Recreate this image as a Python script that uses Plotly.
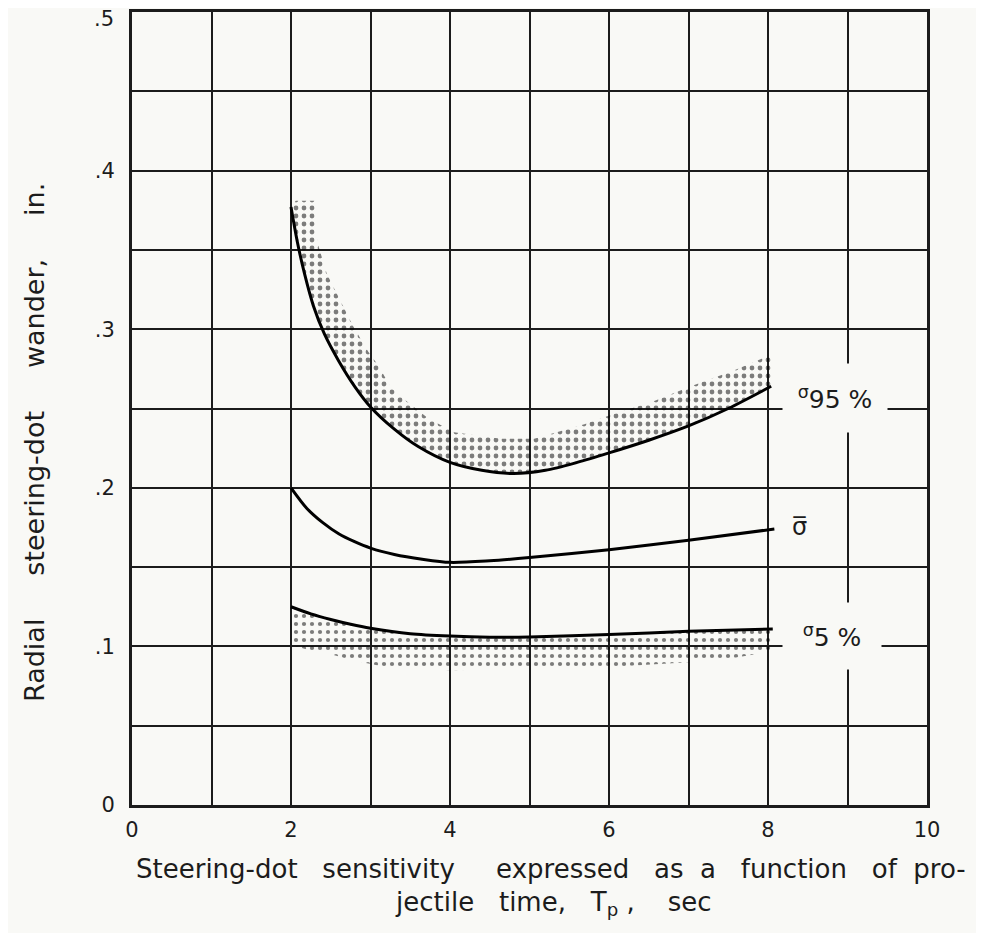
import plotly.graph_objects as go

# ---- data ----
# sigma 95% curve (lower edge of upper shaded band)
s95_x = [2.0, 2.08, 2.17, 2.28, 2.42, 2.6, 2.8, 3.0, 3.3, 3.6, 4.0, 4.4, 4.8, 5.2, 5.6, 6.0, 6.5, 7.0, 7.5, 8.04]
s95_y = [0.377, 0.355, 0.335, 0.315, 0.297, 0.280, 0.264, 0.251, 0.237, 0.226, 0.216, 0.211, 0.209, 0.211, 0.216, 0.222, 0.230, 0.239, 0.250, 0.264]
# upper edge of shaded band around sigma 95%
s95_band_x = [2.06, 2.31, 2.33, 2.45, 2.6, 2.78, 2.97, 3.1, 3.26, 3.47, 3.72, 4.05, 4.64, 5.06, 5.69, 6.03, 6.53, 7.03, 7.57, 8.04]
s95_band_y = [0.381, 0.381, 0.355, 0.335, 0.320, 0.302, 0.286, 0.277, 0.263, 0.254, 0.244, 0.235, 0.231, 0.231, 0.240, 0.246, 0.254, 0.264, 0.274, 0.284]

# mean sigma curve
mean_x = [2.0, 2.2, 2.4, 2.6, 2.8, 3.0, 3.3, 3.65, 4.0, 4.5, 5.0, 6.0, 7.0, 8.08]
mean_y = [0.200, 0.187, 0.178, 0.171, 0.166, 0.162, 0.158, 0.155, 0.153, 0.154, 0.156, 0.161, 0.167, 0.174]

# sigma 5% curve (upper edge of lower shaded band)
s5_x = [2.0, 2.25, 2.5, 2.75, 3.0, 3.5, 4.0, 4.5, 5.0, 6.0, 7.0, 8.06]
s5_y = [0.125, 0.1205, 0.117, 0.114, 0.1115, 0.108, 0.1065, 0.1058, 0.106, 0.1075, 0.1095, 0.111]
# lower edge of shaded band below sigma 5%
s5_band_x = [2.0, 2.2, 2.5, 2.8, 3.1, 3.5, 4.0, 4.6, 5.1, 6.0, 7.0, 7.6, 8.06]
s5_band_y = [0.101, 0.098, 0.095, 0.091, 0.088, 0.086, 0.085, 0.0855, 0.0855, 0.087, 0.090, 0.093, 0.097]

x_ticks = [0, 2, 4, 6, 8, 10]
x_ticktext = ["0", "2", "4", "6", "8", "10"]
y_ticks = [0, 0.1, 0.2, 0.3, 0.4]
y_ticktext = ["0", ".1", ".2", ".3", ".4"]
y_top_label = ".5"

PAPER = "#f9f9f6"
INK = "#1c1c1c"
FONT = "DejaVu Sans"

fig = go.Figure()

# shaded band, sigma 95%
fig.add_trace(go.Scatter(
    x=s95_band_x + s95_x[::-1], y=s95_band_y + s95_y[::-1],
    mode="none", fill="toself", fillcolor="rgba(0,0,0,0)",
    fillpattern=dict(shape=".", fgcolor="black", bgcolor="rgba(0,0,0,0)",
                     size=8, solidity=0.28, fillmode="overlay"),
    hoverinfo="skip", showlegend=False))

# shaded band, sigma 5%
fig.add_trace(go.Scatter(
    x=s5_x + s5_band_x[::-1], y=s5_y + s5_band_y[::-1],
    mode="none", fill="toself", fillcolor="rgba(0,0,0,0)",
    fillpattern=dict(shape=".", fgcolor="black", bgcolor="rgba(0,0,0,0)",
                     size=8, solidity=0.22, fillmode="overlay"),
    hoverinfo="skip", showlegend=False))

for xs, ys in [(s95_x, s95_y), (mean_x, mean_y), (s5_x, s5_y)]:
    fig.add_trace(go.Scatter(x=xs, y=ys, mode="lines",
                             line=dict(color="black", width=3, shape="spline", smoothing=0.8),
                             hoverinfo="skip", showlegend=False))

# curve labels
fig.add_annotation(x=8.84, y=0.2565, xref="x", yref="y",
                   text="<sup>σ</sup>95 %", showarrow=False,
                   xanchor="center", yanchor="middle",
                   font=dict(family=FONT, size=25, color=INK),
                   bgcolor=PAPER, width=102, height=66)
fig.add_annotation(x=8.40, y=0.175, xref="x", yref="y",
                   text="σ\u0305", showarrow=False,
                   xanchor="center", yanchor="middle",
                   font=dict(family=FONT, size=24, color=INK))
fig.add_annotation(x=8.80, y=0.1063, xref="x", yref="y",
                   text="<sup>σ</sup>5 %", showarrow=False,
                   xanchor="center", yanchor="middle",
                   font=dict(family=FONT, size=25, color=INK),
                   bgcolor=PAPER, width=96, height=64)

# top y tick label (kept inside the page)
fig.add_annotation(x=-0.020, y=0.991, xref="paper", yref="paper",
                   text=y_top_label, showarrow=False,
                   xanchor="right", yanchor="middle",
                   font=dict(family=FONT, size=21, color=INK))

# axis titles
fig.add_annotation(x=0.527, y=-0.0807, xref="paper", yref="paper",
                   text="Steering-dot   sensitivity     expressed   as  a   function   of  pro-",
                   showarrow=False, xanchor="center", yanchor="middle",
                   font=dict(family=FONT, size=26, color=INK))
fig.add_annotation(x=0.530, y=-0.1248, xref="paper", yref="paper",
                   text="jectile   time,   T<sub>p</sub> ,    sec",
                   showarrow=False, xanchor="center", yanchor="middle",
                   font=dict(family=FONT, size=26, color=INK))
fig.add_annotation(x=-0.122, y=0.4565, xref="paper", yref="paper",
                   text="Radial     steering-dot     wander,     in.", textangle=-90,
                   showarrow=False, xanchor="center", yanchor="middle",
                   font=dict(family=FONT, size=27, color=INK))

grid = dict(showgrid=True, gridcolor=INK, gridwidth=2)
fig.update_xaxes(range=[0, 10], tickvals=x_ticks, ticktext=x_ticktext,
                 tickfont=dict(family=FONT, size=21, color=INK),
                 showline=True, mirror=True, linecolor=INK, linewidth=3,
                 zeroline=False, ticks="", ticklabelstandoff=4, automargin=False,
                 minor=dict(dtick=1, tick0=0, showgrid=True, gridcolor=INK, gridwidth=2),
                 **grid)
fig.update_yaxes(range=[0, 0.5], tickvals=y_ticks, ticktext=y_ticktext,
                 tickfont=dict(family=FONT, size=21, color=INK),
                 showline=True, mirror=True, linecolor=INK, linewidth=3,
                 zeroline=False, ticks="", ticklabelstandoff=10, automargin=False,
                 minor=dict(dtick=0.05, tick0=0, showgrid=True, gridcolor=INK, gridwidth=2),
                 **grid)

# margins compensate for the page's default 8px body offset
fig.update_layout(width=984, height=933,
                  margin=dict(l=124, r=65, t=4, b=136),
                  paper_bgcolor=PAPER, plot_bgcolor=PAPER,
                  font=dict(family=FONT, color=INK))

fig.write_html("out.html")
